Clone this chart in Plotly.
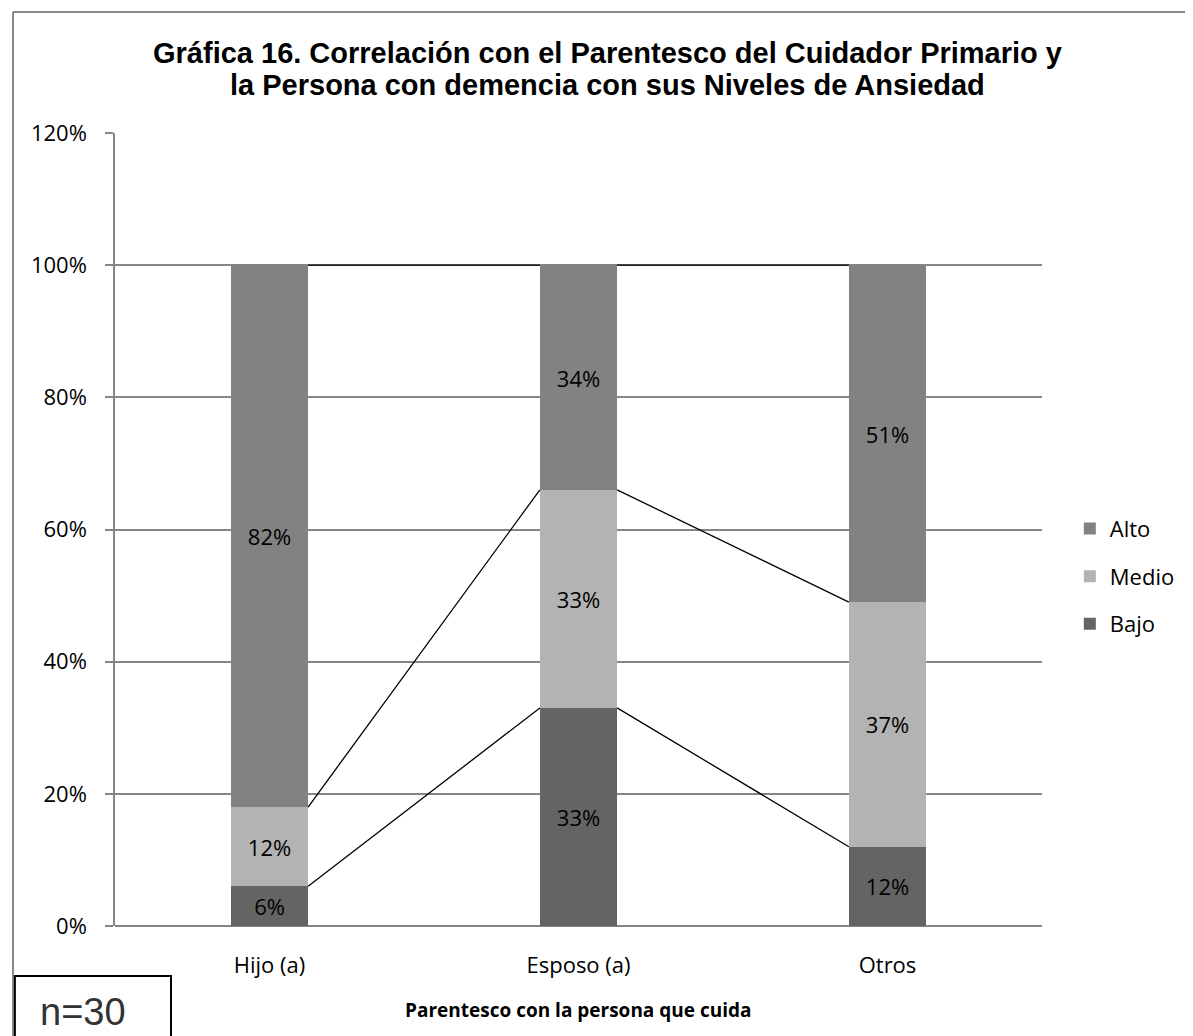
import plotly.graph_objects as go

# categories and values (fractions of each group)
categorias = ["Hijo (a)", "Esposo (a)", "Otros"]
bajo = [0.06, 0.33, 0.12]
medio = [0.12, 0.33, 0.37]
alto = [0.82, 0.34, 0.51]
niveles = ["Bajo", "Medio", "Alto"]
colores = ["#646464", "#b3b3b3", "#828282"]
orden_leyenda = [3, 2, 1]  # Alto on top of the legend

y_ticks = [0, 0.2, 0.4, 0.6, 0.8, 1.0, 1.2]
titulo_1 = "Gráfica 16. Correlación con el Parentesco del Cuidador Primario y"
titulo_2 = "la Persona con demencia con sus Niveles de Ansiedad"

ancho = 0.25  # bar width in category units
pos = list(range(len(categorias)))

fig = go.Figure()

# stacked bars
series = [bajo, medio, alto]
for nombre, valores, color, rango in zip(niveles, series, colores, orden_leyenda):
    fig.add_trace(go.Bar(
        x=pos, y=valores, name=nombre, width=ancho,
        marker=dict(color=color, line=dict(width=0)),
        text=valores, texttemplate="%{y:.0%}", textposition="inside",
        insidetextanchor="middle",
        textfont=dict(family="Open Sans", size=22, color="black"),
        legendgroup=nombre, legendrank=rango, hoverinfo="skip",
    ))

# series lines joining the tops of each segment (Excel style)
acum = [0, 0, 0]
for valores in series:
    acum = [a + v for a, v in zip(acum, valores)]
    xs, ys = [], []
    for i in range(len(pos) - 1):
        xs += [pos[i] + ancho / 2, pos[i + 1] - ancho / 2, None]
        ys += [acum[i], acum[i + 1], None]
    fig.add_trace(go.Scatter(x=xs, y=ys, mode="lines", showlegend=False,
                             line=dict(color="black", width=1.3), hoverinfo="skip"))

fig.update_layout(
    width=1193, height=1036,
    margin=dict(l=107, r=159, t=125, b=118),
    plot_bgcolor="white", paper_bgcolor="white",
    barmode="stack",
    legend=dict(x=1.030, xanchor="left", y=0.441, yanchor="middle",
                traceorder="grouped", tracegroupgap=16,
                font=dict(family="Open Sans", size=22, color="black")),
    showlegend=True,
)

fig.update_xaxes(range=[-0.5, 2.5], tickvals=pos, ticktext=categorias, ticks="",
                 showgrid=False, zeroline=False, showline=False,
                 ticklabelstandoff=24,
                 tickfont=dict(family="Open Sans", size=22, color="black"))
fig.update_yaxes(range=[0, 1.2], tickvals=y_ticks, tickformat=".0%",
                 showgrid=True, gridcolor="#868686", gridwidth=1.5,
                 showline=True, linecolor="#868686", linewidth=1.5,
                 ticks="outside", ticklen=8, tickcolor="#868686", tickwidth=1.5,
                 zeroline=True, zerolinecolor="#868686", zerolinewidth=1.5,
                 ticklabelstandoff=14,
                 tickfont=dict(family="Open Sans", size=22, color="black"))

# title, two lines placed separately to keep Excel's tight line spacing
for texto, yy in [(titulo_1, 1.1007), (titulo_2, 1.0604)]:
    fig.add_annotation(text="<b>" + texto + "</b>", x=0.5315, y=yy, xref="paper", yref="paper",
                       showarrow=False, xanchor="center", yanchor="middle",
                       font=dict(family="Liberation Sans", size=29, color="black"))

# axis title
fig.add_annotation(text="<b>Parentesco con la persona que cuida</b>", x=0.5, y=-0.106,
                   xref="paper", yref="paper", showarrow=False, yanchor="middle",
                   font=dict(family="Open Sans", size=19, color="black"))

# outer chart border (top and left only visible)
fig.add_shape(type="line", xref="paper", yref="paper", x0=-0.11, x1=1.2, y0=1.1525, y1=1.1525,
              line=dict(color="#888888", width=2))
fig.add_shape(type="line", xref="paper", yref="paper", x0=-0.11, x1=-0.11, y0=1.1525, y1=-0.16,
              line=dict(color="#888888", width=2))

# n=30 box
fig.add_shape(type="rect", xref="paper", yref="paper", x0=-0.108, x1=0.0604, y0=-0.063, y1=-0.17,
              line=dict(color="black", width=2), fillcolor="white")
fig.add_annotation(text="n=30", x=-0.0345, y=-0.108, xref="paper", yref="paper",
                   showarrow=False, xanchor="center", yanchor="middle",
                   font=dict(family="Liberation Sans", size=38, color="#333333"))

fig.write_html("out.html")
